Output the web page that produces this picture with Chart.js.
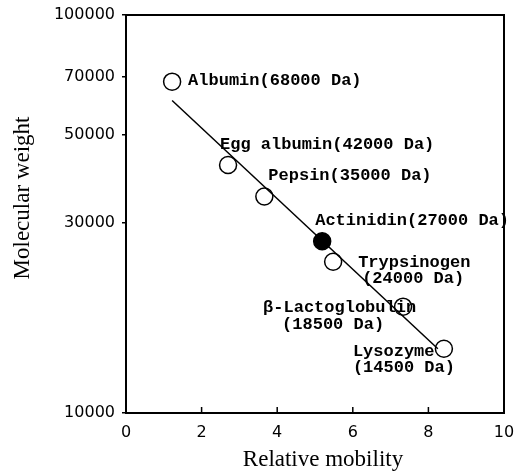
<!DOCTYPE html>
<html>
<head>
<meta charset="utf-8">
<script src="https://cdn.jsdelivr.net/npm/chart.js@4"></script>
<style>
  html, body { margin: 0; padding: 0; background: #fff; }
  #wrap { width: 515px; height: 472px; }
</style>
</head>
<body>
<div id="wrap"><canvas id="mwChart"></canvas></div>
<script>
var proteins = ["Albumin", "Egg albumin", "Pepsin", "Actinidin", "Trypsinogen", "β-Lactoglobulin", "Lysozyme"];
var mobility = [1.22, 2.70, 3.66, 5.19, 5.48, 7.33, 8.41];
var molWeight = [68000, 42000, 35000, 27000, 24000, 18500, 14500];
var sample = "Actinidin";
// least-squares line through the markers, end points
var fitMobility = [1.22, 8.25];
var fitWeight = [61000, 14500];
var xTicks = [0, 2, 4, 6, 8, 10];
var yTicks = [10000, 30000, 50000, 70000, 100000];
var xTitle = "Relative mobility";
var yTitle = "Molecular weight";

var tickFont = { family: "DejaVu Sans", size: 16 };

// label placement relative to each marker: one [dx, dy] per text line
var labelOffsets = [
  [[16, -1]],
  [[-8, -20]],
  [[4, -21]],
  [[-7, -21]],
  [[25, 1], [29, 17]],
  [[-140, 1], [-121, 18]],
  [[-91, 3], [-91, 19]]
];

var annotate = {
  id: "annotate",
  afterDatasetsDraw: function (chart) {
    var ctx = chart.ctx;
    var area = chart.chartArea;
    var xs = chart.scales.x;
    var ys = chart.scales.y;
    ctx.save();
    ctx.strokeStyle = "#000";
    ctx.lineWidth = 2;
    ctx.strokeRect(area.left, area.top, area.right - area.left, area.bottom - area.top);

    // x ticks point into the plot
    ctx.lineWidth = 1.5;
    xTicks.forEach(function (v) {
      var px = xs.getPixelForValue(v);
      ctx.beginPath();
      ctx.moveTo(px, area.bottom);
      ctx.lineTo(px, area.bottom - 6);
      ctx.stroke();
    });

    // axis titles
    ctx.fillStyle = "#000";
    ctx.font = "23px 'Liberation Serif'";
    ctx.textAlign = "center";
    ctx.textBaseline = "alphabetic";
    ctx.fillText(xTitle, 323, 466);
    ctx.save();
    ctx.translate(29, 198);
    ctx.rotate(-Math.PI / 2);
    ctx.fillText(yTitle, 0, 0);
    ctx.restore();

    // marker labels
    ctx.font = "bold 17px 'Liberation Mono'";
    ctx.textAlign = "left";
    ctx.textBaseline = "middle";
    proteins.forEach(function (name, i) {
      var px = xs.getPixelForValue(mobility[i]);
      var py = ys.getPixelForValue(molWeight[i]);
      var da = "(" + molWeight[i] + " Da)";
      var offs = labelOffsets[i];
      var lines = offs.length > 1 ? [name, da] : [name + da];
      lines.forEach(function (txt, k) {
        ctx.fillText(txt, px + offs[k][0], py + offs[k][1]);
      });
    });
    ctx.restore();
  }
};

var ctx = document.getElementById("mwChart").getContext("2d");
var mwChart = new Chart(ctx, {
  type: "scatter",
  data: {
    datasets: [
      {
        label: "fit",
        data: fitMobility.map(function (x, i) {
          return { x: x, y: fitWeight[i] };
        }),
        showLine: true,
        borderColor: "#000",
        borderWidth: 1.5,
        pointRadius: 0,
      },
      {
        label: "markers",
        data: mobility.map(function (x, i) {
          return { x: x, y: molWeight[i] };
        }),
        pointRadius: 8.5,
        pointBorderWidth: 1.5,
        pointBorderColor: "#000",
        pointBackgroundColor: proteins.map(function (p) {
          return p === sample ? "#000" : "rgba(0,0,0,0)";
        }),
      },
    ],
  },
  options: {
    responsive: true,
    maintainAspectRatio: false,
    animation: false,
    layout: { padding: { left: 0, right: 11, top: 15, bottom: 0 } },
    plugins: {
      legend: { display: false },
      tooltip: { enabled: false },
    },
    scales: {
      x: {
        type: "linear",
        min: 0,
        max: 10,
        afterBuildTicks: function (s) {
          s.ticks = xTicks.map(function (v) { return { value: v }; });
        },
        ticks: { font: tickFont, color: "#000", padding: 10 },
        grid: { display: false, drawTicks: false },
        border: { display: false },
        afterFit: function (s) {
          s.height = 59;
          s.paddingLeft = 0;
          s.paddingRight = 0;
        },
      },
      y: {
        type: "logarithmic",
        min: 10000,
        max: 100000,
        afterBuildTicks: function (s) {
          s.ticks = yTicks.map(function (v) { return { value: v }; });
        },
        ticks: {
          font: tickFont,
          color: "#000",
          padding: 7,
          callback: function (v) { return String(v); },
        },
        grid: { drawOnChartArea: false, tickLength: 4, color: "#000", lineWidth: 1.5 },
        border: { display: false },
        afterFit: function (s) {
          s.width = 126;
          s.paddingTop = 0;
          s.paddingBottom = 0;
        },
      },
    },
  },
  plugins: [annotate],
});
</script>
</body>
</html>
